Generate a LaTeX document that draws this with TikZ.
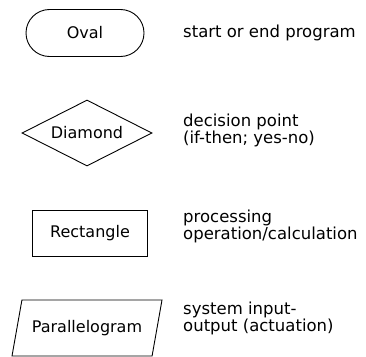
\documentclass[tikz,border=0pt]{standalone}
\usepackage{fontspec}
\setmainfont{DejaVu Sans}
\usepackage{tikz}
\usetikzlibrary{
  positioning,
  shapes.geometric,
  shapes.misc,
}
\tikzset{
  shapebox/.style={
    draw=black, line width=0.9pt, inner sep=2pt, align=center,
    font=\fontsize{16}{17}\selectfont,
  },
  ovalbox/.style={
    shapebox, rounded rectangle, minimum width=122pt, minimum height=47pt,
  },
  decision/.style={
    shapebox, diamond, aspect=2, inner sep=0pt,
    minimum width=130pt, minimum height=66pt,
  },
  procbox/.style={
    shapebox, rectangle, minimum width=115pt, minimum height=46pt,
  },
  iobox/.style={
    shapebox, trapezium, trapezium left angle=63, trapezium right angle=117,
    trapezium stretches body, minimum width=150pt, minimum height=56pt,
  },
  desc/.style={
    anchor=west, inner sep=0pt, align=left,
    font=\fontsize{16.5}{17}\selectfont,
  },
}

\begin{document}
\begin{tikzpicture}[x=1pt, y=-1pt]
\useasboundingbox (0,0) rectangle (366,356);

% symbols
\node[ovalbox] (oval) at (85,33) {Oval};
\node[decision] (dmnd) at (87,133) {Diamond};
\node[procbox] (rect) at (90,233) {Rectangle};
\node[iobox] (para) at (87,328) {Parallelogram};

% meanings
\node[desc] (ovalTxt) at (183,33) {start or end program};
\node[desc] (dmndTxt) at (183,130) {decision point\\(if-then; yes-no)};
\node[desc] (rectTxt) at (183,226) {processing\\operation/calculation};
\node[desc] (paraTxt) at (183,318) {system input-\\output (actuation)};

\end{tikzpicture}
\end{document}
